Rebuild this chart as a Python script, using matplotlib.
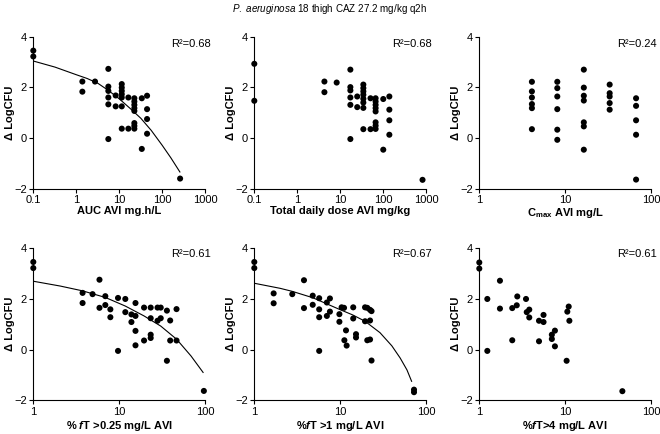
"""
Six-panel PK/PD scatter: change in log CFU vs avibactam exposure indices
(P. aeruginosa thigh model). Values read off the published figure.
"""

import matplotlib
matplotlib.use("Agg")
import matplotlib.pyplot as plt
from matplotlib.ticker import FixedLocator, NullLocator

plt.rcParams["font.family"] = ["Liberation Sans", "DejaVu Sans"]
plt.rcParams["mathtext.fontset"] = "custom"
plt.rcParams["mathtext.rm"] = "Liberation Sans"
plt.rcParams["mathtext.it"] = "Liberation Sans:italic"
plt.rcParams["mathtext.bf"] = "Liberation Sans:bold"
plt.rcParams["mathtext.bfit"] = "Liberation Sans:bold:italic"

# --- data -----------------------------------------------------------------
# AUC (mg.h/L)
auc_x = [0.1, 0.1, 1.39, 1.39, 2.74,
         5.6, 5.6, 5.6, 5.6, 5.6, 5.6, 8.3, 8.3,
         11.5, 11.5, 11.5, 11.5, 11.5, 11.5, 11.5, 16.4, 16.4,
         22.6, 22.6, 22.6, 22.6, 22.6, 22.6, 22.6, 22.6,
         33.7, 33.7, 44.7, 44.7, 44.7, 44.7, 263]
auc_y = [3.45, 3.22, 2.23, 1.83, 2.23,
         2.73, 2.03, 1.86, 1.60, 1.33, -0.04, 1.68, 1.25,
         2.13, 1.99, 1.86, 1.73, 1.60, 1.25, 0.37, 1.60, 0.37,
         1.57, 1.44, 1.31, 1.18, 1.07, 0.59, 0.48, 0.37,
         1.57, -0.43, 1.67, 1.14, 0.75, 0.17, -1.60]
auc_fit_x = [0.1, 0.32, 1, 1.8, 3.2, 5.6, 10, 18, 32, 56, 100, 160, 260]
auc_fit_y = [3.04, 2.80, 2.50, 2.35, 2.16, 1.88, 1.55, 1.17, 0.78, 0.30, -0.28, -0.78, -1.34]

# Total daily dose (mg/kg)
dose_x = [0.1, 0.1, 4.3, 4.3, 8.3,
          17.3, 17.3, 17.3, 17.3, 17.3, 17.3, 25, 25,
          34.7, 34.7, 34.7, 34.7, 34.7, 34.7, 34.7, 34.7, 51, 51,
          67, 67, 67, 67, 67, 67, 67, 67,
          101, 101, 140, 140, 140, 140, 830]
dose_y = [2.93, 1.47, 2.23, 1.81, 2.19,
          2.70, 2.01, 1.88, 1.60, 1.31, -0.04, 1.64, 1.22,
          2.11, 1.97, 1.84, 1.71, 1.55, 1.40, 1.19, 0.35, 1.57, 0.35,
          1.57, 1.44, 1.31, 1.18, 1.05, 0.62, 0.49, 0.36,
          1.54, -0.46, 1.64, 1.12, 0.70, 0.13, -1.65]

# Cmax (mg/L)
cmax_x = [4.1] * 6 + [8.1] * 6 + [16.5] * 7 + [33] * 5 + [67] * 5
cmax_y = [2.22, 1.84, 1.60, 1.34, 1.18, 0.35,
          2.22, 1.97, 1.64, 1.14, 0.33, -0.07,
          2.70, 1.99, 1.67, 1.48, 0.62, 0.46, -0.46,
          2.11, 1.77, 1.64, 1.38, 1.12,
          1.57, 1.27, 0.70, 0.13, -1.64]

# %fT > 0.25 mg/L
ft025_x = [1, 1, 3.75, 3.75, 4.9, 5.9, 5.9, 6.9, 6.9, 7.9, 7.9, 9.7, 9.7,
           11.8, 11.8, 13.9, 13.9, 15.5, 15.5, 15.5, 15.5, 19.5, 19.5,
           23.3, 23.3, 23.3, 23.3, 28, 28, 30.5, 30.5, 36, 36,
           39.3, 39.3, 46.6, 46.6, 97]
ft025_y = [3.46, 3.22, 2.24, 1.84, 2.19, 2.76, 1.65, 2.11, 1.76, 1.59, 1.28, 2.04, -0.05,
           2.00, 1.48, 1.39, 1.09, 1.84, 1.33, 0.74, 0.17, 1.66, 0.36,
           1.66, 1.24, 0.59, 0.46, 1.66, 1.14, 1.66, 1.24, 1.54, -0.44,
           1.15, 0.36, 1.60, 0.36, -1.63]
ft025_fit_x = [1, 2.06, 3.75, 6.9, 11.8, 19.5, 30.5, 46.7, 68.7, 95]
ft025_fit_y = [2.70, 2.51, 2.32, 2.06, 1.72, 1.33, 0.93, 0.41, -0.25, -0.90]

# %fT > 1 mg/L
ft1_x = [1, 1, 1.68, 1.68, 2.77, 3.79, 3.79, 4.79, 4.79,
         5.7, 5.7, 5.7, 5.7, 7.0, 7.0, 7.6, 7.6, 9.8, 9.8,
         10.4, 11.1, 14.2, 14.2, 11.7, 11.2, 11.9, 15.3, 15.3,
         19.5, 19.5, 20.7, 20.7, 22.3, 22.3, 22.3, 23.2, 23.2, 72.5, 72.5]
ft1_y = [3.46, 3.22, 2.22, 1.83, 2.19, 2.74, 1.64, 2.13, 1.77,
         2.03, 1.59, 1.28, -0.05, 1.86, 1.33, 2.02, 1.50, 1.40, 1.10,
         1.67, 1.65, 1.67, 1.23, 0.76, 0.37, 0.16, 0.61, 0.48,
         1.67, 1.12, 1.65, 0.37, 1.57, 1.15, 0.40, 1.52, -0.43, -1.58, -1.68]
ft1_fit_x = [1, 2.0, 2.77, 4.79, 9.8, 14, 19.5, 29.1, 40, 50, 60, 68]
ft1_fit_y = [2.62, 2.42, 2.30, 2.05, 1.59, 1.37, 1.12, 0.67, 0.15, -0.33, -0.80, -1.25]

# %fT > 4 mg/L
ft4_x = [1, 1, 1.24, 1.24, 1.74, 1.74, 2.42, 2.42, 2.73, 2.77, 3.5, 3.57,
         3.82, 3.82, 4.96, 4.96, 5.6, 5.6, 7.0, 7.0, 7.6, 7.6,
         10.4, 10.6, 11.0, 11.2, 46.4]
ft4_y = [3.44, 3.20, 2.00, -0.05, 2.72, 1.62, 1.64, 0.37, 1.75, 2.10, 2.00, 1.48,
         1.58, 1.27, 1.14, 0.33, 1.37, 1.09, 0.59, 0.42, 0.75, 0.13,
         -0.44, 1.50, 1.70, 1.14, -1.64]

r2_labels = ["R\u00b2=0.68", "R\u00b2=0.68", "R\u00b2=0.24",
             "R\u00b2=0.61", "R\u00b2=0.67", "R\u00b2=0.61"]
x_labels = ["AUC AVI mg.h/L",
            "Total daily dose AVI mg/kg",
            r"C$_{\mathbf{max}}$ AVI mg/L",
            r"% $\mathbfit{f}$T >0.25 mg/L AVI",
            r"%$\mathbfit{f}$T >1 mg/L AVI",
            r"%$\mathbfit{f}$T>4 mg/L AVI"]

wide_ticks = [0.1, 1, 10, 100, 1000]
wide_ticklabels = ["0.1", "1", "10", "100", "1000"]
narrow_ticks = [1, 10, 100]
narrow_ticklabels = ["1", "10", "100"]
y_ticks = [-2, 0, 2, 4]

panels = [
    (auc_x, auc_y, auc_fit_x, auc_fit_y, wide_ticks, wide_ticklabels),
    (dose_x, dose_y, None, None, wide_ticks, wide_ticklabels),
    (cmax_x, cmax_y, None, None, narrow_ticks, narrow_ticklabels),
    (ft025_x, ft025_y, ft025_fit_x, ft025_fit_y, narrow_ticks, narrow_ticklabels),
    (ft1_x, ft1_y, ft1_fit_x, ft1_fit_y, narrow_ticks, narrow_ticklabels),
    (ft4_x, ft4_y, None, None, narrow_ticks, narrow_ticklabels),
]

# --- layout (figure fractions, measured from the 660x434 reference) --------
W, H = 660, 434
col_left = [33.3, 254.3, 479.3]
ax_w = 171.7
row_top = [36.7, 248.3]
ax_h = 152.0

fig = plt.figure(figsize=(6.6, 4.34), dpi=100)
FS = 8

for i, (xs, ys, fx, fy, xt, xtl) in enumerate(panels):
    row, col = divmod(i, 3)
    rect = [col_left[col] / W, 1 - (row_top[row] + ax_h) / H, ax_w / W, ax_h / H]
    ax = fig.add_axes(rect)

    ax.scatter(xs, ys, s=19, color="black", edgecolors="none", zorder=3, clip_on=False)
    if fx is not None:
        ax.plot(fx, fy, color="black", lw=0.8, zorder=2)

    ax.set_xscale("log")
    ax.set_xlim(xt[0], xt[-1])
    ax.set_ylim(-2, 4)
    ax.xaxis.set_major_locator(FixedLocator(xt))
    ax.xaxis.set_minor_locator(NullLocator())
    ax.set_xticklabels(xtl)
    ax.set_yticks(y_ticks)
    ax.set_yticklabels(["\u22122", "0", "2", "4"])

    for side in ["top", "right"]:
        ax.spines[side].set_visible(False)
    for side in ["left", "bottom"]:
        ax.spines[side].set_linewidth(0.8)
    ax.tick_params(length=3, width=0.8, pad=1.5, labelsize=FS)

    ax.set_ylabel("\u0394 LogCFU", fontsize=FS, fontweight="bold")
    ax.yaxis.set_label_coords(-0.105, 0.5)
    ax.set_xlabel(x_labels[i], fontsize=FS, fontweight="bold")
    ax.xaxis.set_label_coords(0.5, -0.115 if row == 0 else -0.122)

    ax.text(1.035, 0.955 if row == 0 else 0.962, r2_labels[i], transform=ax.transAxes,
            ha="right", va="center", fontsize=FS)

fig.text(0.5, 1 - 9 / H, r"$\mathit{P.\ aeruginosa}$ 18 thigh CAZ 27.2 mg/kg q2h",
         ha="center", va="center", fontsize=7.1)

fig.savefig("out.png", dpi=100)
